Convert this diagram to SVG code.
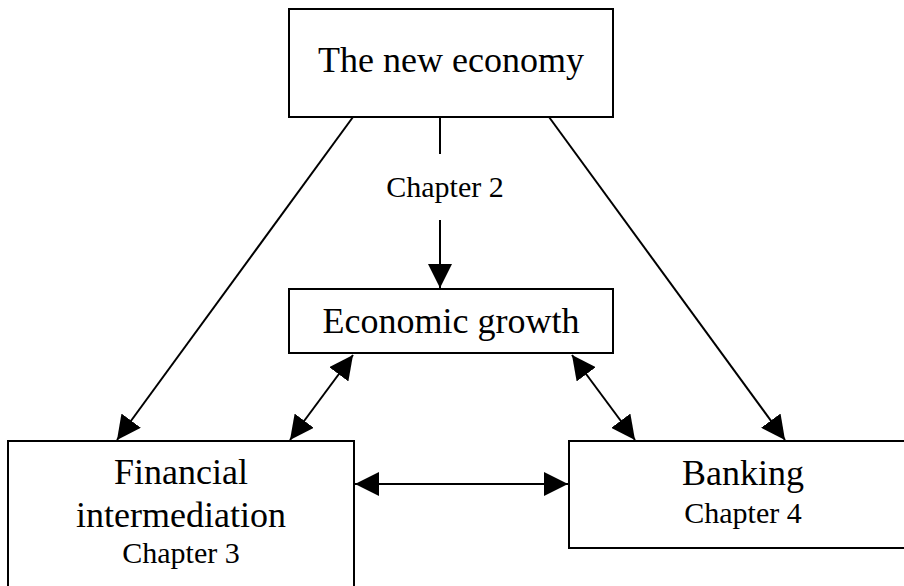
<svg xmlns="http://www.w3.org/2000/svg" width="904" height="586" viewBox="0 0 904 586">
<style>
.box{fill:#fff;stroke:#000;stroke-width:2}
.big{font-family:"Liberation Serif","Times New Roman",serif;font-size:36px;fill:#000;text-anchor:middle}
.small{font-family:"Liberation Serif","Times New Roman",serif;font-size:30px;fill:#000;text-anchor:middle}
.conn{stroke:#000;stroke-width:2;fill:none}
</style>
<defs>
<marker id="ah" markerUnits="userSpaceOnUse" markerWidth="24" markerHeight="24" viewBox="0 0 22 22" refX="22" refY="11" orient="auto-start-reverse">
<path d="M0,0 L22,11 L0,22 z" fill="#000"/>
</marker>
</defs>
<rect width="904" height="586" fill="#fff"/>
<g id="connectors">
<line class="conn" x1="440" y1="117" x2="440" y2="154"/>
<text class="small" x="445" y="197">Chapter 2</text>
<line class="conn" x1="440" y1="220" x2="440" y2="288" marker-end="url(#ah)"/>
<line class="conn" x1="353" y1="117" x2="117" y2="440" marker-end="url(#ah)"/>
<line class="conn" x1="549" y1="117" x2="785" y2="440" marker-end="url(#ah)"/>
<line class="conn" x1="353" y1="355" x2="290" y2="440" marker-start="url(#ah)" marker-end="url(#ah)"/>
<line class="conn" x1="572" y1="355" x2="635" y2="440" marker-start="url(#ah)" marker-end="url(#ah)"/>
<line class="conn" x1="355" y1="484" x2="568" y2="484" marker-start="url(#ah)" marker-end="url(#ah)"/>
</g>
<g id="new-economy">
<rect class="box" x="289" y="9" width="324" height="108"/>
<text class="big" x="451" y="72">The new economy</text>
</g>
<g id="economic-growth">
<rect class="box" x="289" y="289" width="324" height="64"/>
<text class="big" x="451" y="333">Economic growth</text>
</g>
<g id="financial-intermediation">
<rect class="box" x="8" y="441" width="346" height="160"/>
<text class="big" x="181" y="484">Financial</text>
<text class="big" x="181" y="527">intermediation</text>
<text class="small" x="181" y="563">Chapter 3</text>
</g>
<g id="banking">
<rect class="box" x="569" y="441" width="350" height="107"/>
<text class="big" x="743" y="485">Banking</text>
<text class="small" x="743" y="523">Chapter 4</text>
</g>
</svg>
